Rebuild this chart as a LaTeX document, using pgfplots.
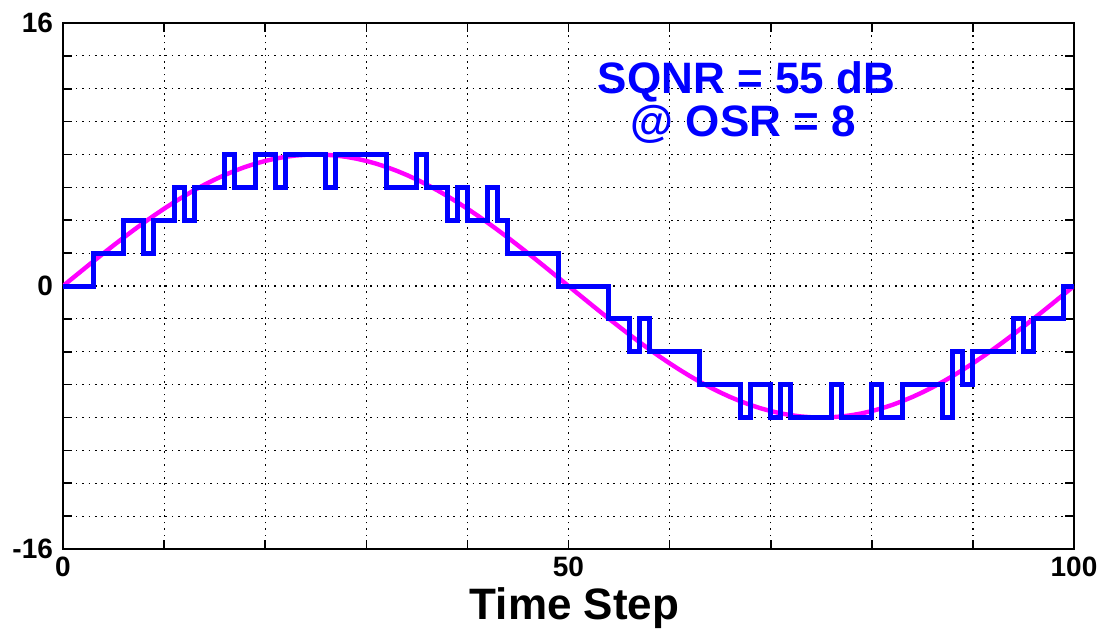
\documentclass[border=0pt]{standalone}
\usepackage{fontspec}
\setmainfont{Liberation Sans}
\usepackage{pgfplots}
\pgfplotsset{compat=1.18}
\definecolor{qblue}{RGB}{0,0,255}
\definecolor{qmag}{RGB}{255,0,255}
\begin{document}
\begin{tikzpicture}
\path[use as bounding box] (-31.5pt,-42pt) rectangle (517.5pt,274.5pt);
\begin{axis}[
  at={(0pt,0pt)}, anchor=south west,
  scale only axis,
  width=505.5pt, height=263pt,
  xmin=0, xmax=100, ymin=-16, ymax=16,
  xtick={0,10,...,100},
  xticklabels={0,,,,,50,,,,,100},
  ytick={-16,-14,...,16},
  yticklabels={-16,,,,,,,,0,,,,,,,,16},
  /pgf/number format/assume math mode=true,
  tick align=inside,
  major tick length=4.5pt,
  tick style={black, line width=0.8pt},
  axis line style={black, line width=1.1pt},
  grid=major,
  major grid style={black, line width=0.6pt, dash pattern=on 0.8pt off 2.4pt},
  ticklabel style={font=\fontsize{14}{14}\selectfont\bfseries},
  yticklabel style={xshift=-1.5pt},
  xticklabel style={yshift=-0.5pt},
  xlabel={Time Step},
  xlabel style={font=\fontsize{22}{22}\selectfont\bfseries, at={(axis description cs:0.506,0)}, anchor=base, yshift=-35pt},
]
\addplot[qmag, line width=2.2pt] coordinates {
(0,0) (1,0.502) (2,1.003) (3,1.499) (4,1.990) (5,2.472) (6,2.945) (7,3.406) (8,3.854) (9,4.287)
(10,4.702) (11,5.099) (12,5.476) (13,5.832) (14,6.164) (15,6.472) (16,6.755) (17,7.010) (18,7.239) (19,7.438)
(20,7.608) (21,7.749) (22,7.858) (23,7.937) (24,7.984) (25,8) (26,7.984) (27,7.937) (28,7.858) (29,7.749)
(30,7.608) (31,7.438) (32,7.239) (33,7.010) (34,6.755) (35,6.472) (36,6.164) (37,5.832) (38,5.476) (39,5.099)
(40,4.702) (41,4.287) (42,3.854) (43,3.406) (44,2.945) (45,2.472) (46,1.990) (47,1.499) (48,1.003) (49,0.502)
(50,0) (51,-0.502) (52,-1.003) (53,-1.499) (54,-1.990) (55,-2.472) (56,-2.945) (57,-3.406) (58,-3.854) (59,-4.287)
(60,-4.702) (61,-5.099) (62,-5.476) (63,-5.832) (64,-6.164) (65,-6.472) (66,-6.755) (67,-7.010) (68,-7.239) (69,-7.438)
(70,-7.608) (71,-7.749) (72,-7.858) (73,-7.937) (74,-7.984) (75,-8) (76,-7.984) (77,-7.937) (78,-7.858) (79,-7.749)
(80,-7.608) (81,-7.438) (82,-7.239) (83,-7.010) (84,-6.755) (85,-6.472) (86,-6.164) (87,-5.832) (88,-5.476) (89,-5.099)
(90,-4.702) (91,-4.287) (92,-3.854) (93,-3.406) (94,-2.945) (95,-2.472) (96,-1.990) (97,-1.499) (98,-1.003) (99,-0.502)
(100,0)
};
\addplot[qblue, line width=2.5pt, const plot, line join=miter] coordinates {
(0,0) (3,2) (6,4) (8,2) (9,4) (11,6) (12,4) (13,6) (16,8) (17,6) (19,8) (21,6) (22,8)
(26,6) (27,8) (32,6) (35,8) (36,6) (38,4) (39,6) (40,4) (42,6) (43,4) (44,2) (49,0)
(54,-2) (56,-4) (57,-2) (58,-4) (63,-6) (67,-8) (68,-6) (70,-8) (71,-6) (72,-8)
(76,-6) (77,-8) (80,-6) (81,-8) (83,-6) (87,-8) (88,-4) (89,-6) (90,-4) (94,-2) (95,-4)
(96,-2) (99,0) (100,0)
};
\node[qblue, font=\fontsize{22}{22}\selectfont\bfseries, anchor=base] at (axis cs:67.6,11.74) {SQNR = 55 dB};
\node[qblue, font=\fontsize{22}{22}\selectfont\bfseries, anchor=base] at (axis cs:67.3,9.12) {@ OSR = 8};
\end{axis}
\end{tikzpicture}
\end{document}
